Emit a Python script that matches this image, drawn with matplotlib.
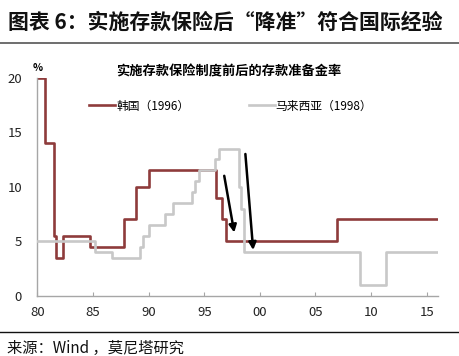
import numpy as np
import matplotlib
matplotlib.use("Agg")
import matplotlib.pyplot as plt
from matplotlib.lines import Line2D

plt.rcParams['font.family'] = ['Noto Sans CJK SC', 'DejaVu Sans']

# step change points (year, reserve ratio %)
korea_x = [1980.0, 1980.7, 1981.5, 1981.7, 1982.3, 1984.7, 1987.8, 1988.9, 1990.05,
           1996.1, 1996.6, 1996.95, 2006.9, 2016.0]
korea_y = [20, 14, 5.5, 3.5, 5.5, 4.5, 7, 10, 11.5, 9, 7, 5, 7, 7]

malay_x = [1980.0, 1985.2, 1986.7, 1989.2, 1989.5, 1990.0, 1991.5, 1992.2, 1993.9,
           1994.2, 1994.5, 1996.0, 1996.3, 1998.1, 1998.3, 1998.6, 2009.0, 2011.3, 2016.0]
malay_y = [5, 4, 3.5, 4.5, 5.5, 6.5, 7.5, 8.5, 9.5, 10.5, 11.5, 12.5, 13.5, 10, 8, 4, 1, 4, 4]

xticks = [1980, 1985, 1990, 1995, 2000, 2005, 2010, 2015]
xtick_labels = ["80", "85", "90", "95", "00", "05", "10", "15"]
yticks = [0, 5, 10, 15, 20]

# arrows: (start, end) in data coords
arrows = [((1996.8, 11.0), (1997.7, 5.8)),
          ((1998.7, 13.0), (1999.4, 4.2))]

fig = plt.figure(figsize=(4.6, 3.56), dpi=100)
ax = fig.add_axes([0.081, 0.169, 0.871, 0.613])

ax.step(korea_x, korea_y, where="post", color="#8E3B3B", lw=1.9, label="韩国（1996）", zorder=2)
ax.step(malay_x, malay_y, where="post", color="#C8C8C8", lw=1.9, label="马来西亚（1998）", zorder=3)

for (s, e) in arrows:
    ax.annotate("", xy=e, xytext=s,
                arrowprops=dict(arrowstyle="-|>", color="black", lw=1.8, mutation_scale=11,
                                shrinkA=0, shrinkB=0), zorder=5)

ax.set_xlim(1980, 2016)
ax.set_ylim(0, 20)
ax.set_xticks(xticks)
ax.set_xticklabels(xtick_labels)
ax.set_yticks(yticks)
for sp in ["top", "right"]:
    ax.spines[sp].set_visible(False)
for sp in ["left", "bottom"]:
    ax.spines[sp].set_color("#A6A6A6")
    ax.spines[sp].set_linewidth(1.0)
ax.tick_params(axis="x", direction="in", length=3, color="#A6A6A6", labelsize=9.5,
               labelcolor="#222222", pad=7)
ax.tick_params(axis="y", length=0, labelsize=9.5, labelcolor="#222222", pad=11)

ax.legend(loc="center left", bbox_to_anchor=(0.13, 0.87), ncol=2, frameon=False,
          fontsize=8.5, handlelength=2.2, handletextpad=0.1, columnspacing=5.0,
          borderaxespad=0, borderpad=0)

fig.text(0.498, 0.798, "实施存款保险制度前后的存款准备金率", ha="center", va="center",
         fontsize=9.5, fontweight="bold")
fig.text(0.083, 0.809, "%", ha="center", va="center", fontsize=7.5, fontweight="bold")

fig.text(0.017, 0.938, "图表 6：实施存款保险后“降准”符合国际经验", ha="left", va="center",
         fontsize=15, fontweight="bold", color="#111111")
fig.add_artist(Line2D([0, 1], [0.879, 0.879], transform=fig.transFigure, color="#555555", lw=1.2))
fig.add_artist(Line2D([0, 1], [0.067, 0.067], transform=fig.transFigure, color="#111111", lw=1.0))
fig.text(0.015, 0.022, "来源：Wind ，莫尼塔研究", ha="left", va="center", fontsize=11, color="#111111")

fig.savefig("out.png", dpi=100)
